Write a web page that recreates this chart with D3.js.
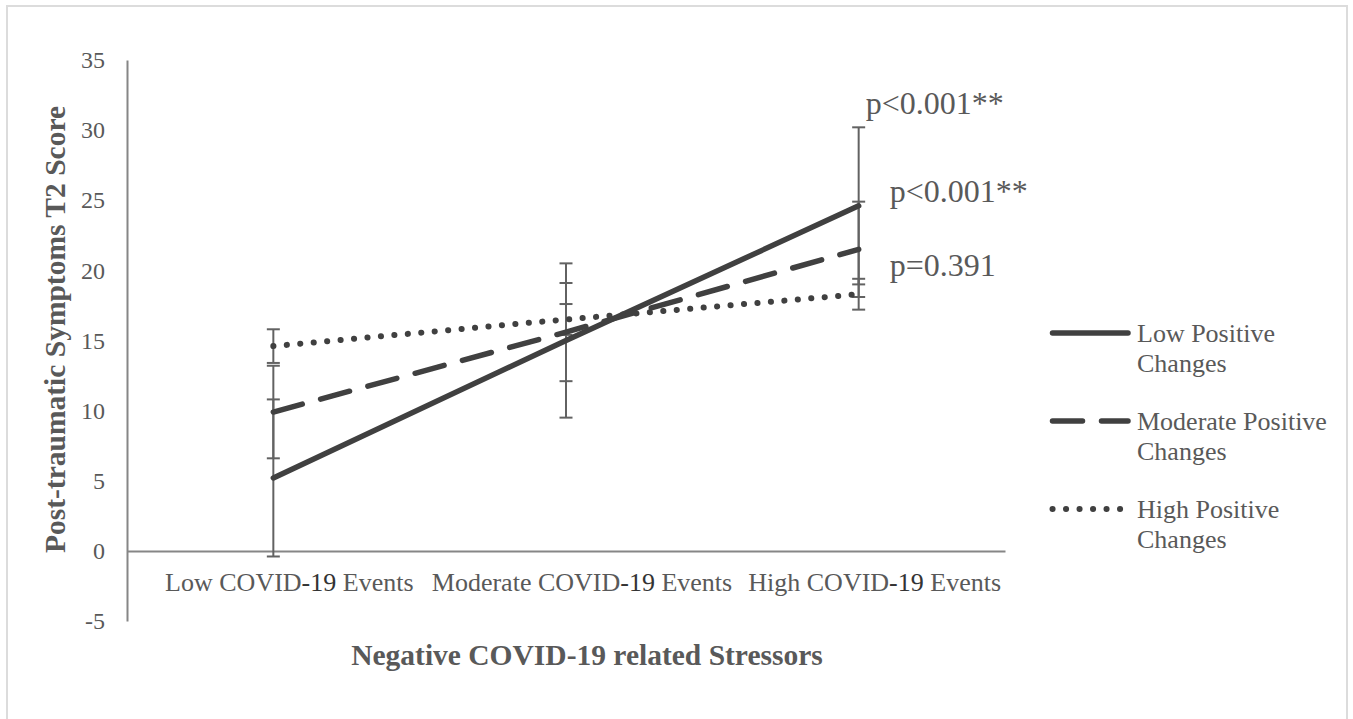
<!DOCTYPE html>
<html>
<head>
<meta charset="utf-8">
<script src="https://cdn.jsdelivr.net/npm/d3@7"></script>
<style>
  body { margin: 0; background: #fff; }
  text { font-family: "Liberation Serif", "Times New Roman", serif; fill: #595959; }
</style>
</head>
<body>
<svg id="chart" width="1353" height="719"></svg>
<script>
const categories = ["Low COVID-19 Events", "Moderate COVID-19 Events", "High COVID-19 Events"];
const seriesNames = ["Low Positive Changes", "Moderate Positive Changes", "High Positive Changes"];
const lowPositive = [5.2, 15.0, 24.6];
const moderatePositive = [9.9, 15.6, 21.5];
const highPositive = [14.6, 16.5, 18.3];
const lowPositiveErr = [5.6, 5.5, 5.6];
const moderatePositiveErr = [3.3, 3.5, 3.4];
const highPositiveErr = [1.2, 1.1, 1.1];
const yTicks = [-5, 0, 5, 10, 15, 20, 25, 30, 35];
const pLabels = ["p<0.001**", "p<0.001**", "p=0.391"];

const plotLeft = 127, plotRight = 1005, plotTop = 60, plotBottom = 621;
const ink = "#404040", axisGray = "#868686", barGray = "#626262";

const svg = d3.select("#chart");

// outer frame
svg.append("rect").attr("x", 7).attr("y", 6).attr("width", 1340).attr("height", 800)
  .attr("fill", "none").attr("stroke", "#dcdcdc").attr("stroke-width", 2);

const x = d3.scalePoint().domain(categories).range([plotLeft, plotRight]).padding(0.5);
const y = d3.scaleLinear().domain([-5, 35]).range([plotBottom, plotTop]);

// y axis: line + labels, no ticks
const yAxis = d3.axisLeft(y).tickValues(yTicks).tickSize(0).tickPadding(22).tickFormat(d => String(d));
const yg = svg.append("g").attr("transform", `translate(${plotLeft},0)`).call(yAxis);
yg.select(".domain").attr("stroke", axisGray).attr("stroke-width", 2);
yg.selectAll("text").style("font-family", "Liberation Serif").attr("font-size", 24).attr("fill", "#595959");

// horizontal axis at zero
const xAxis = d3.axisBottom(x).tickSize(0).tickFormat("");
const xg = svg.append("g").attr("transform", `translate(0,${y(0)})`).call(xAxis);
xg.select(".domain").attr("stroke", axisGray).attr("stroke-width", 2);

// category labels below the zero line (sit a bit right of the points, as in the original)
svg.append("g").selectAll("text").data(categories).join("text")
  .attr("x", d => x(d) + 16).attr("y", y(0) + 40)
  .attr("text-anchor", "middle").attr("font-size", 26)
  .each(function(d) {
    const parts = d.split("-19");
    const t = d3.select(this);
    t.append("tspan").text(parts[0]);
    t.append("tspan").attr("fill", "#333").text("-19");
    t.append("tspan").text(parts[1]);
  });

// axis titles
svg.append("text").attr("transform", `translate(65,${(plotTop + 551) / 2 + 24}) rotate(-90)`)
  .attr("text-anchor", "middle").attr("font-size", 29.5).attr("font-weight", "bold")
  .text("Post-traumatic Symptoms T2 Score");
svg.append("text").attr("x", 587).attr("y", 665)
  .attr("text-anchor", "middle").attr("font-size", 29.5).attr("font-weight", "bold")
  .text("Negative COVID-19 related Stressors");

const series = [
  { name: seriesNames[0], values: lowPositive, err: lowPositiveErr, dash: null, width: 5.5 },
  { name: seriesNames[1], values: moderatePositive, err: moderatePositiveErr, dash: "30,19", width: 5.5 },
  { name: seriesNames[2], values: highPositive, err: highPositiveErr, dash: "0.1,13.4", width: 6 }
];

// error bars
const bars = svg.append("g");
series.forEach(s => {
  s.values.forEach((v, i) => {
    const cx = x(categories[i]);
    const y0 = y(v - s.err[i]), y1 = y(v + s.err[i]);
    bars.append("line").attr("x1", cx).attr("x2", cx).attr("y1", y0).attr("y2", y1)
      .attr("stroke", barGray).attr("stroke-width", 2);
    [y0, y1].forEach(yy => bars.append("line")
      .attr("x1", cx - 6.5).attr("x2", cx + 6.5).attr("y1", yy).attr("y2", yy)
      .attr("stroke", barGray).attr("stroke-width", 2));
  });
});

// lines
const line = d3.line().x((d, i) => x(categories[i])).y(d => y(d));
svg.append("g").selectAll("path").data(series).join("path")
  .attr("d", d => line(d.values))
  .attr("fill", "none").attr("stroke", ink)
  .attr("stroke-width", d => d.width)
  .attr("stroke-linecap", "round")
  .attr("stroke-dasharray", d => d.dash);

// p-value annotations
const hx = x(categories[2]);
const pPos = [
  [hx + 7, y(lowPositive[2] + lowPositiveErr[2]) - 13],
  [hx + 31, y(lowPositive[2]) - 4],
  [hx + 31, y(moderatePositive[2]) + 27]
];
svg.append("g").selectAll("text").data(pLabels).join("text")
  .attr("x", (d, i) => pPos[i][0]).attr("y", (d, i) => pPos[i][1])
  .attr("font-size", 32).text(d => d);

// legend
const legend = svg.append("g").selectAll("g").data(series).join("g")
  .attr("transform", (d, i) => `translate(1050,${333 + i * 88})`);
legend.append("line").attr("x1", 2.5).attr("x2", 78).attr("y1", 0).attr("y2", 0)
  .attr("stroke", ink).attr("stroke-width", d => d.width)
  .attr("stroke-linecap", "round").attr("stroke-dasharray", d => d.dash);
legend.append("text").attr("x", 87).attr("y", 9).attr("font-size", 26)
  .text(d => d.name.replace(" Changes", ""));
legend.append("text").attr("x", 87).attr("y", 39).attr("font-size", 26)
  .text("Changes");
</script>
</body>
</html>
